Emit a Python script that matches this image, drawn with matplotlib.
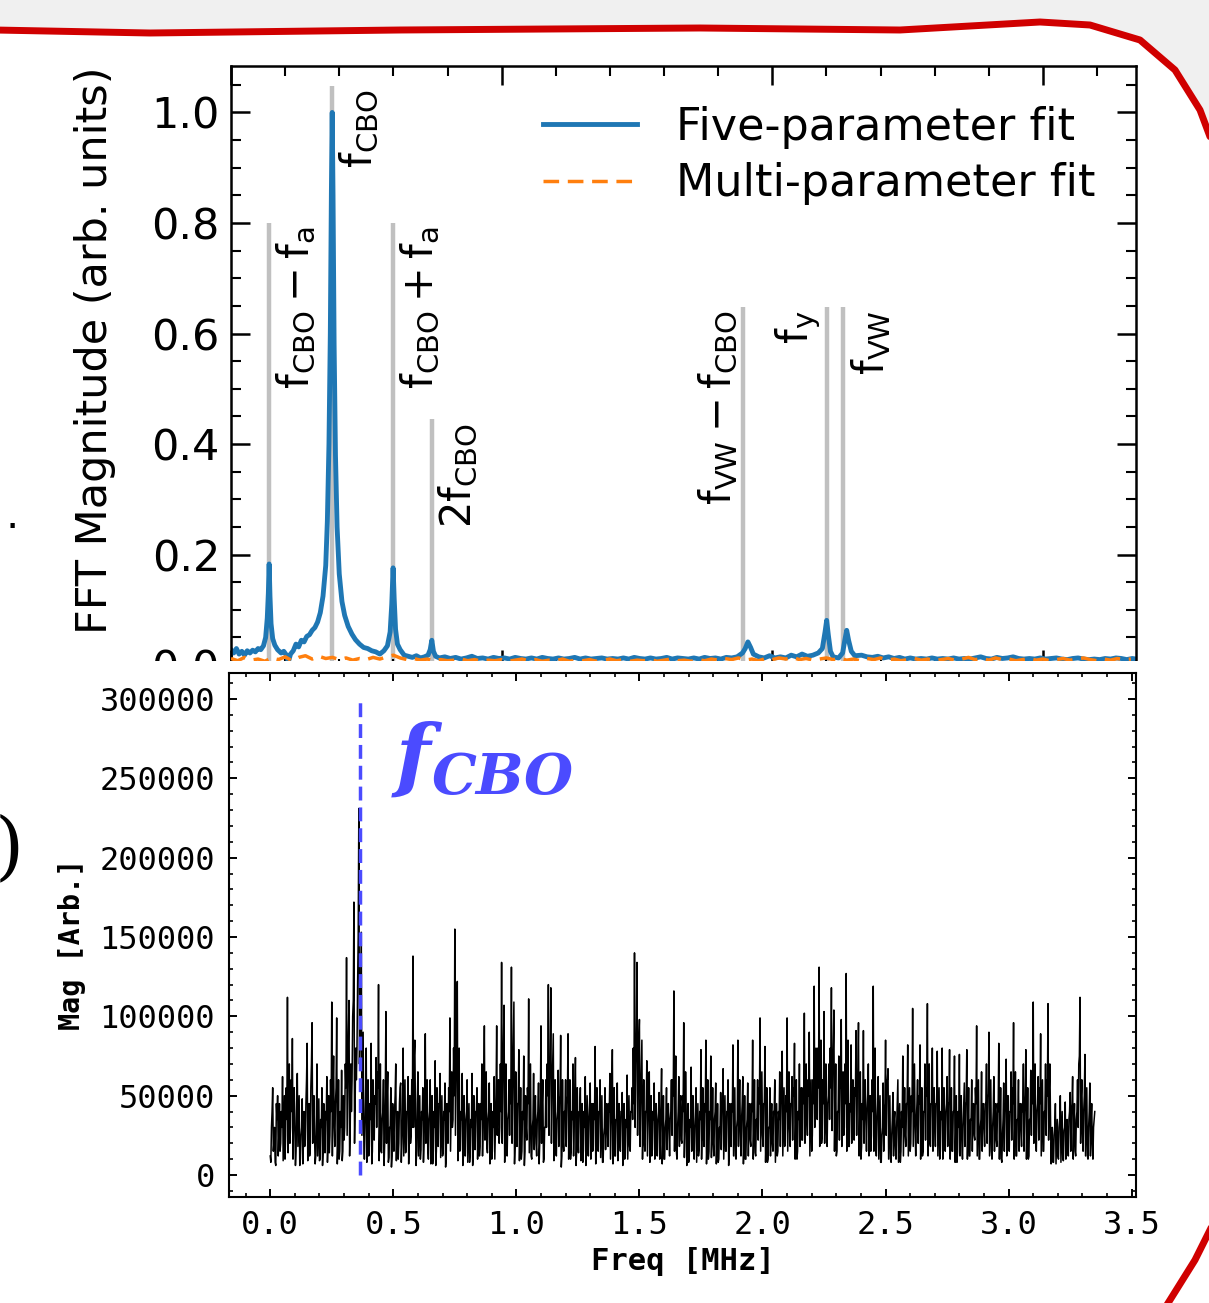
import numpy as np
import matplotlib.pyplot as plt
from matplotlib.ticker import MultipleLocator
from matplotlib.patches import Rectangle, Polygon
from matplotlib.lines import Line2D

# ---- upper panel: FFT of fit residuals ----
five_f = [
    0.000, 0.010, 0.020, 0.030, 0.040, 0.050, 0.060, 0.070, 0.080, 0.090,
    0.100, 0.110, 0.120, 0.128, 0.134, 0.138, 0.141, 0.144, 0.148, 0.154,
    0.162, 0.172, 0.185, 0.195, 0.205, 0.212, 0.220, 0.230, 0.240, 0.250,
    0.260, 0.270, 0.280, 0.290, 0.300, 0.310, 0.320, 0.330, 0.340, 0.350,
    0.356, 0.362, 0.367, 0.371, 0.374, 0.377, 0.381, 0.386, 0.392, 0.400,
    0.410, 0.420, 0.433, 0.447, 0.460, 0.475, 0.490, 0.505, 0.520, 0.535,
    0.550, 0.565, 0.578, 0.588, 0.594, 0.599, 0.603, 0.608, 0.615, 0.625,
    0.640, 0.655, 0.670, 0.685, 0.700, 0.715, 0.728, 0.736, 0.742, 0.748,
    0.756, 0.770, 0.790, 0.810, 0.830, 0.850, 0.870, 0.890, 0.910, 0.930,
    0.950, 0.970, 0.990, 1.010, 1.030, 1.050, 1.070, 1.090, 1.110, 1.130,
    1.150, 1.170, 1.190, 1.210, 1.230, 1.250, 1.270, 1.290, 1.310, 1.330,
    1.350, 1.370, 1.390, 1.410, 1.430, 1.450, 1.470, 1.490, 1.510, 1.530,
    1.550, 1.570, 1.590, 1.610, 1.630, 1.650, 1.670, 1.690, 1.710, 1.730,
    1.750, 1.770, 1.790, 1.810, 1.830, 1.850, 1.870, 1.890, 1.900, 1.910,
    1.920, 1.930, 1.950, 1.970, 1.990, 2.010, 2.030, 2.050, 2.070, 2.090,
    2.110, 2.130, 2.150, 2.170, 2.185, 2.195, 2.201, 2.207, 2.215, 2.225,
    2.245, 2.260, 2.268, 2.275, 2.282, 2.292, 2.305, 2.330, 2.350, 2.370,
    2.390, 2.410, 2.430, 2.450, 2.470, 2.490, 2.510, 2.530, 2.550, 2.570,
    2.590, 2.610, 2.630, 2.650, 2.670, 2.690, 2.710, 2.730, 2.750, 2.770,
    2.790, 2.810, 2.830, 2.850, 2.870, 2.890, 2.910, 2.930, 2.950, 2.970,
    2.990, 3.010, 3.030, 3.050, 3.070, 3.090, 3.110, 3.130, 3.150, 3.170,
    3.190, 3.210, 3.230, 3.250, 3.270, 3.290, 3.310, 3.330, 3.344,
]
five_mag = [
    0.028, 0.022, 0.030, 0.020, 0.025, 0.018, 0.026, 0.022, 0.027, 0.024,
    0.030, 0.028, 0.035, 0.050, 0.085, 0.130, 0.183, 0.125, 0.075, 0.048,
    0.036, 0.028, 0.022, 0.025, 0.018, 0.006, 0.020, 0.026, 0.038, 0.033,
    0.045, 0.042, 0.052, 0.055, 0.063, 0.068, 0.078, 0.095, 0.125, 0.180,
    0.260, 0.400, 0.600, 0.860, 1.000, 0.850, 0.580, 0.380, 0.250, 0.165,
    0.115, 0.090, 0.070, 0.056, 0.046, 0.038, 0.032, 0.030, 0.026, 0.024,
    0.020, 0.026, 0.035, 0.060, 0.110, 0.176, 0.120, 0.065, 0.038, 0.028,
    0.018, 0.016, 0.014, 0.017, 0.013, 0.015, 0.018, 0.028, 0.045, 0.025,
    0.016, 0.013, 0.015, 0.012, 0.014, 0.011, 0.013, 0.016, 0.012, 0.013,
    0.011, 0.014, 0.012, 0.013, 0.011, 0.014, 0.012, 0.011, 0.013, 0.011,
    0.014, 0.012, 0.011, 0.013, 0.011, 0.012, 0.014, 0.011, 0.013, 0.011,
    0.012, 0.013, 0.011, 0.012, 0.011, 0.013, 0.011, 0.014, 0.012, 0.011,
    0.013, 0.011, 0.012, 0.014, 0.011, 0.013, 0.012, 0.011, 0.013, 0.011,
    0.014, 0.012, 0.013, 0.011, 0.014, 0.013, 0.015, 0.022, 0.030, 0.042,
    0.032, 0.020, 0.015, 0.013, 0.017, 0.013, 0.015, 0.013, 0.018, 0.015,
    0.020, 0.016, 0.018, 0.022, 0.030, 0.060, 0.081, 0.055, 0.025, 0.015,
    0.013, 0.022, 0.045, 0.063, 0.045, 0.025, 0.017, 0.018, 0.015, 0.014,
    0.016, 0.013, 0.015, 0.012, 0.014, 0.011, 0.013, 0.011, 0.012, 0.011,
    0.013, 0.011, 0.012, 0.011, 0.013, 0.011, 0.012, 0.011, 0.013, 0.015,
    0.012, 0.011, 0.014, 0.012, 0.013, 0.015, 0.012, 0.011, 0.012, 0.011,
    0.013, 0.011, 0.012, 0.013, 0.011, 0.010, 0.012, 0.013, 0.011, 0.010,
    0.011, 0.010, 0.012, 0.011, 0.013, 0.012, 0.010, 0.012, 0.011,
]

# multi-parameter fit residual, sampled every 0.025 MHz
multi_step = 0.025
multi_mag = [
    0.012, 0.008, 0.014, 0.009, 0.011, 0.007, 0.013, 0.010, 0.015, 0.008,
    0.014, 0.017, 0.011, 0.016, 0.012, 0.014, 0.010, 0.013, 0.009, 0.012,
    0.010, 0.014, 0.011, 0.015, 0.018, 0.013, 0.010, 0.012, 0.009, 0.011,
    0.008, 0.010, 0.008, 0.009, 0.011, 0.008, 0.010, 0.007, 0.009, 0.008,
    0.010, 0.007, 0.009, 0.011, 0.008, 0.010, 0.007, 0.009, 0.008, 0.011,
    0.007, 0.009, 0.008, 0.010, 0.007, 0.009, 0.011, 0.008, 0.010, 0.007,
    0.009, 0.008, 0.010, 0.007, 0.009, 0.011, 0.008, 0.009, 0.007, 0.010,
    0.008, 0.011, 0.009, 0.012, 0.010, 0.013, 0.009, 0.011, 0.008, 0.012,
    0.010, 0.013, 0.011, 0.014, 0.010, 0.012, 0.009, 0.011, 0.013, 0.010,
    0.012, 0.009, 0.011, 0.008, 0.012, 0.010, 0.013, 0.009, 0.011, 0.008,
    0.010, 0.012, 0.009, 0.011, 0.008, 0.010, 0.012, 0.009, 0.011, 0.014,
    0.010, 0.012, 0.009, 0.013, 0.010, 0.011, 0.008, 0.010, 0.012, 0.009,
    0.011, 0.008, 0.010, 0.012, 0.009, 0.011, 0.013, 0.010, 0.008, 0.011,
    0.009, 0.012, 0.010, 0.011,
]

# known frequencies marked with grey lines
line_f = [0.141, 0.374, 0.599, 0.742, 1.893, 2.201, 2.263]
line_top = [0.80, 1.048, 0.80, 0.445, 0.648, 0.648, 0.648]
line_text = [
    r'$\mathregular{f_{CBO}-f_{a}}$',
    r'$\mathregular{f_{CBO}}$',
    r'$\mathregular{f_{CBO}+f_{a}}$',
    r'$\mathregular{2f_{CBO}}$',
    r'$\mathregular{f_{VW}-f_{CBO}}$',
    r'$\mathregular{f_{y}}$',
    r'$\mathregular{f_{VW}}$',
]
line_side = ['right', 'right', 'right', 'right', 'left', 'left', 'right']

# ---- lower panel: raw spectrum (values in thousands) ----
# bins at 0.0000, 0.0100, ... MHz
spec_q0_k = [
    12, 55, 8, 50, 15, 62, 10, 112, 20, 86,
    30, 64, 6, 48, 18, 83, 12, 96, 25, 70,
    9, 55, 20, 62, 14, 109, 30, 99, 10, 66,
    22, 137, 110, 40, 172, 60, 231, 153, 25, 80,
    12, 83, 30, 74, 120, 15, 60, 103, 8, 55,
    25, 70, 10, 58, 80, 14, 62, 20, 138, 40,
    65, 10, 55, 89, 18, 60, 7, 72, 28, 64,
    12, 58, 22, 99, 30, 155, 122, 15, 64, 20,
    60, 8, 64, 25, 55, 12, 70, 94, 18, 58,
    10, 62, 94, 20, 134, 107, 15, 60, 131, 109,
    25, 79, 10, 75, 30, 111, 12, 64, 20, 58,
    94, 8, 60, 120, 118, 89, 15, 66, 88, 22,
    60, 89, 10, 70, 74, 25, 55, 8, 62, 30,
    58, 15, 81, 20, 60, 8, 55, 28, 64, 79,
    12, 58, 22, 52, 10, 63, 18, 55, 140, 134,
    98, 85, 20, 72, 65, 12, 58, 25, 52, 67,
    10, 55, 30, 60, 116, 15, 62, 22, 96, 40,
    8, 68, 20, 55, 12, 79, 25, 85, 10, 75,
    20, 58, 8, 52, 67, 15, 60, 28, 82, 12,
    85, 30, 62, 10, 58, 22, 85, 14, 60, 99,
    25, 81, 8, 55, 20, 60, 12, 65, 78, 18,
    99, 30, 62, 83, 10, 70, 22, 102, 35, 90,
    15, 119, 40, 131, 20, 103, 30, 70, 118, 104,
    12, 75, 98, 25, 127, 18, 82, 30, 91, 96,
    10, 91, 35, 70, 15, 119, 20, 62, 8, 58,
    85, 67, 10, 52, 20, 60, 8, 75, 25, 82,
    15, 105, 30, 60, 82, 12, 70, 108, 20, 80,
    30, 78, 10, 80, 25, 62, 79, 15, 75, 8,
    76, 20, 58, 79, 12, 60, 25, 94, 10, 65,
    30, 70, 90, 15, 62, 22, 83, 10, 58, 73,
    20, 65, 96, 12, 60, 28, 70, 79, 10, 66,
    109, 25, 62, 89, 15, 70, 108, 40, 8, 45,
    12, 50, 10, 46, 20, 52, 62, 15, 60, 112,
    30, 76, 12, 58, 20, 40,
]
# bins at 0.0025, 0.0125, ... MHz
spec_q1_k = [
    8, 15, 6, 12, 20, 9, 25, 14, 30, 10,
    6, 18, 10, 7, 22, 9, 15, 20, 7, 12,
    10, 6, 14, 8, 25, 12, 18, 7, 15, 9,
    30, 25, 12, 60, 20, 80, 70, 25, 10, 8,
    18, 7, 22, 30, 9, 14, 6, 20, 11, 5,
    15, 9, 20, 8, 12, 16, 7, 25, 30, 6,
    12, 16, 8, 20, 10, 7, 15, 6, 18, 11,
    14, 5, 20, 15, 35, 25, 9, 16, 6, 12,
    8, 14, 6, 16, 10, 18, 12, 22, 14, 7,
    15, 10, 25, 30, 20, 8, 12, 25, 20, 7,
    18, 9, 15, 6, 22, 14, 10, 16, 12, 7,
    20, 10, 30, 25, 20, 9, 12, 18, 5, 15,
    18, 10, 15, 12, 6, 14, 9, 16, 6, 12,
    10, 18, 7, 15, 11, 8, 16, 18, 10, 7,
    12, 9, 15, 6, 12, 10, 15, 35, 30, 25,
    18, 10, 15, 12, 8, 16, 10, 12, 10, 7,
    10, 16, 12, 25, 15, 10, 18, 20, 11, 6,
    12, 15, 10, 8, 16, 10, 18, 7, 15, 11,
    12, 7, 10, 16, 10, 15, 6, 18, 12, 10,
    18, 12, 7, 10, 12, 18, 10, 12, 22, 15,
    18, 8, 10, 12, 15, 8, 15, 18, 12, 20,
    15, 18, 22, 10, 15, 18, 22, 20, 25, 12,
    25, 30, 35, 18, 25, 20, 18, 35, 28, 15,
    15, 22, 18, 30, 15, 18, 20, 22, 25, 12,
    18, 20, 15, 12, 25, 15, 12, 10, 8, 15,
    25, 10, 8, 12, 10, 8, 15, 12, 18, 12,
    20, 18, 12, 20, 10, 15, 22, 12, 18, 15,
    18, 12, 15, 10, 15, 18, 10, 15, 8, 15,
    12, 10, 18, 10, 12, 15, 22, 12, 10, 15,
    18, 20, 12, 10, 15, 18, 10, 8, 15, 12,
    15, 22, 10, 12, 15, 18, 15, 10, 12, 25,
    20, 15, 22, 12, 15, 25, 22, 7, 8, 7,
    10, 8, 9, 10, 12, 15, 10, 12, 30, 20,
    15, 12, 10, 12, 10,
]
# bins at 0.0050, 0.0150, ... MHz
spec_q2_k = [
    30, 20, 45, 25, 40, 28, 55, 48, 60, 40,
    15, 35, 25, 20, 45, 30, 55, 40, 12, 30,
    35, 15, 40, 20, 60, 55, 45, 20, 40, 15,
    70, 60, 30, 100, 45, 120, 90, 60, 30, 20,
    45, 15, 50, 65, 30, 35, 20, 50, 30, 12,
    40, 30, 45, 20, 35, 40, 25, 60, 75, 15,
    30, 40, 20, 45, 35, 25, 40, 15, 45, 30,
    40, 10, 55, 40, 80, 60, 30, 40, 12, 35,
    25, 35, 15, 40, 30, 45, 30, 50, 35, 20,
    40, 30, 55, 70, 60, 25, 35, 60, 55, 20,
    45, 30, 40, 15, 55, 40, 30, 40, 35, 20,
    45, 30, 70, 60, 50, 30, 35, 45, 12, 40,
    45, 30, 40, 35, 15, 40, 25, 40, 15, 35,
    30, 45, 20, 40, 30, 25, 40, 45, 30, 20,
    35, 25, 40, 15, 35, 30, 40, 80, 70, 60,
    45, 30, 40, 35, 25, 40, 30, 35, 30, 20,
    30, 40, 35, 60, 40, 30, 45, 50, 30, 15,
    35, 40, 30, 25, 40, 30, 45, 20, 40, 30,
    35, 20, 30, 40, 30, 40, 15, 45, 35, 30,
    45, 35, 20, 30, 35, 45, 30, 35, 55, 40,
    45, 25, 30, 35, 40, 25, 40, 45, 35, 50,
    40, 45, 55, 30, 40, 45, 55, 50, 60, 35,
    60, 70, 80, 45, 60, 50, 45, 80, 65, 40,
    40, 55, 45, 70, 40, 45, 50, 55, 60, 35,
    45, 50, 40, 35, 60, 40, 35, 30, 25, 40,
    60, 30, 25, 35, 30, 25, 40, 35, 45, 35,
    50, 45, 35, 50, 30, 40, 55, 35, 45, 40,
    45, 35, 40, 30, 40, 45, 30, 40, 25, 40,
    35, 30, 45, 30, 35, 40, 55, 35, 30, 40,
    45, 50, 35, 30, 40, 45, 30, 25, 40, 35,
    40, 55, 30, 35, 40, 45, 40, 30, 35, 60,
    50, 40, 55, 35, 40, 60, 55, 20, 25, 20,
    30, 25, 28, 30, 35, 40, 30, 35, 70, 50,
    40, 35, 30, 35, 30,
]
# bins at 0.0075, 0.0175, ... MHz
spec_q3_k = [
    40, 30, 35, 45, 30, 50, 35, 70, 40, 55,
    45, 50, 30, 40, 60, 45, 70, 50, 35, 48,
    30, 45, 35, 50, 40, 75, 55, 60, 30, 50,
    55, 90, 70, 110, 80, 150, 120, 90, 50, 60,
    35, 60, 45, 55, 70, 40, 50, 65, 30, 45,
    50, 40, 55, 35, 60, 40, 50, 30, 85, 45,
    50, 35, 45, 60, 40, 50, 30, 55, 45, 50,
    35, 45, 40, 65, 50, 90, 80, 35, 50, 40,
    45, 30, 50, 40, 45, 35, 55, 65, 40, 45,
    30, 50, 60, 40, 85, 70, 40, 45, 80, 65,
    45, 55, 35, 50, 45, 70, 35, 50, 40, 45,
    60, 30, 50, 75, 70, 60, 40, 50, 60, 40,
    50, 60, 35, 50, 55, 40, 45, 30, 50, 45,
    45, 35, 55, 40, 50, 30, 45, 40, 50, 55,
    35, 45, 40, 45, 30, 50, 40, 45, 90, 85,
    65, 60, 40, 55, 50, 35, 45, 40, 45, 50,
    35, 45, 40, 50, 75, 40, 50, 40, 65, 45,
    30, 50, 40, 45, 35, 55, 40, 60, 35, 55,
    40, 45, 30, 45, 50, 40, 45, 40, 55, 35,
    60, 45, 50, 35, 45, 40, 60, 35, 45, 65,
    45, 55, 30, 45, 40, 45, 35, 50, 55, 40,
    65, 45, 50, 60, 35, 55, 45, 70, 50, 60,
    45, 80, 55, 85, 45, 70, 50, 55, 80, 70,
    40, 55, 65, 45, 85, 40, 60, 50, 65, 65,
    35, 60, 50, 50, 40, 80, 45, 50, 30, 45,
    60, 50, 35, 40, 45, 45, 30, 55, 45, 55,
    40, 70, 45, 45, 55, 40, 50, 70, 45, 55,
    45, 55, 35, 55, 45, 45, 55, 40, 50, 30,
    50, 45, 45, 55, 35, 45, 45, 60, 35, 45,
    45, 50, 60, 40, 45, 40, 55, 35, 45, 50,
    40, 45, 65, 35, 45, 40, 50, 55, 35, 45,
    70, 45, 45, 60, 40, 50, 70, 30, 30, 35,
    35, 40, 30, 35, 40, 45, 45, 40, 75, 60,
    50, 55, 40, 45, 35,
]
spec_step = 0.01
f_cbo_marker = 0.365

W, H = 1209, 1303


def fig_xy(x, y):
    # pixel position (from top-left) -> figure fraction
    return x / W, 1 - y / H


fig = plt.figure(figsize=(W / 100, H / 100), dpi=100)
fig.patch.set_facecolor('white')

# upper panel
ax1 = fig.add_axes([231 / W, 1 - 669 / H, 905 / W, 603 / H])
ax1.vlines(line_f, 0, line_top, colors='#c0c0c0', lw=3.2, zorder=1)
ax1.plot(five_f, five_mag, color='#1f77b4', lw=3.5, label='Five-parameter fit', zorder=2)
multi_f = np.arange(len(multi_mag)) * multi_step
ax1.plot(multi_f, multi_mag, color='#ff7f0e', lw=2.5, ls='--', dashes=(4.5, 2.5),
         label='Multi-parameter fit', zorder=3)

for f, top, txt, side in zip(line_f, line_top, line_text, line_side):
    if side == 'right':
        ax1.text(f + 0.02, top - 0.006, txt, rotation=90, ha='left', va='top', fontsize=30)
    else:
        ax1.text(f - 0.012, top - 0.006, txt, rotation=90, ha='right', va='top', fontsize=30)

ax1.set_xlim(0, 3.344)
ax1.set_ylim(-0.007, 1.084)
ax1.xaxis.set_major_locator(MultipleLocator(1))
ax1.xaxis.set_minor_locator(MultipleLocator(0.2))
ax1.yaxis.set_major_locator(MultipleLocator(0.2))
ax1.yaxis.set_minor_locator(MultipleLocator(0.05))
ax1.tick_params(which='both', direction='in', top=True, right=True, labelbottom=False)
ax1.tick_params(which='major', length=14, width=1.8, labelsize=31, pad=8)
ax1.tick_params(which='minor', length=7, width=1.5)
for s in ax1.spines.values():
    s.set_linewidth(1.8)
ax1.set_ylabel('FFT Magnitude (arb. units)', fontsize=31)
ax1.yaxis.set_label_coords(-0.127, 0.529)
ax1.legend(loc='upper right', frameon=False, fontsize=32, handlelength=2.1,
           handletextpad=0.9, labelspacing=0.3)

# white backing of the lower panel covers the bottom edge of the upper one
fig.patches.append(Rectangle(fig_xy(30, 1300), (1150 - 30) / W, (1300 - 661) / H,
                             transform=fig.transFigure, facecolor='white',
                             edgecolor='none', zorder=1))

# lower panel: merge the four quarter-step bin sets into one trace
n_bins = len(spec_q0_k) + len(spec_q1_k) + len(spec_q2_k) + len(spec_q3_k)
spec_mag_k = np.empty(n_bins)
spec_mag_k[0::4] = spec_q0_k
spec_mag_k[1::4] = spec_q1_k
spec_mag_k[2::4] = spec_q2_k
spec_mag_k[3::4] = spec_q3_k
spec_f = np.arange(n_bins) * spec_step / 4
spec_mag = spec_mag_k * 1000

ax2 = fig.add_axes([229 / W, 1 - 1197 / H, 907 / W, 524 / H], zorder=2)
ax2.plot(spec_f, spec_mag, color='black', lw=1.1)
ax2.vlines(f_cbo_marker, 0, 300000, colors='#4b4bff', linestyles=(0, (4, 2)), lw=2.5)
ax2.text(0.49, 262000, r'$\mathbfit{f}_{\mathbfit{CBO}}$', color='#4b4bff',
         fontsize=58, math_fontfamily='dejavuserif', ha='left', va='center')
ax2.set_xlim(-0.1675, 3.5175)
ax2.set_ylim(-13866, 316400)
ax2.xaxis.set_major_locator(MultipleLocator(0.5))
ax2.xaxis.set_minor_locator(MultipleLocator(0.1))
ax2.yaxis.set_major_locator(MultipleLocator(50000))
ax2.yaxis.set_minor_locator(MultipleLocator(10000))
ax2.tick_params(which='both', direction='in', top=True, right=True)
ax2.tick_params(which='major', length=6, width=1.4, labelsize=23)
ax2.tick_params(which='minor', length=3, width=1.2)
ax2.tick_params(axis='y', pad=10)
ax2.tick_params(axis='x', pad=9)
for lab in ax2.get_xticklabels() + ax2.get_yticklabels():
    lab.set_fontfamily('DejaVu Sans Mono')
for s in ax2.spines.values():
    s.set_linewidth(1.5)
ax2.set_xlabel('Freq [MHz]', fontsize=22, fontweight='bold', fontfamily='DejaVu Sans Mono')
ax2.set_ylabel('Mag [Arb.]', fontsize=20.5, fontweight='bold', fontfamily='DejaVu Sans Mono')
ax2.xaxis.set_label_coords(0.5, -0.095)
ax2.yaxis.set_label_coords(-0.158, 0.483)

# slide frame around the figure
frame_top = [(-5, 30), (150, 33), (400, 30), (700, 28), (900, 30), (1040, 22),
             (1090, 25), (1140, 40), (1175, 70), (1200, 110), (1215, 150)]
grey_pts = [(-5, -5), (1215, -5)] + frame_top[::-1]
fig.patches.append(Polygon([fig_xy(x, y) for x, y in grey_pts], closed=True,
                           transform=fig.transFigure, facecolor='#f0f0f0',
                           edgecolor='none', zorder=4))
fx, fy = zip(*[fig_xy(x, y) for x, y in frame_top])
fig.add_artist(Line2D(fx, fy, transform=fig.transFigure, color='#d00000', lw=5,
                      solid_capstyle='round', zorder=5))
frame_br = [(1215, 1220), (1195, 1260), (1165, 1308)]
bx, by = zip(*[fig_xy(x, y) for x, y in frame_br])
fig.add_artist(Line2D(bx, by, transform=fig.transFigure, color='#d00000', lw=5, zorder=5))

# bits of slide text at the left edge
fig.text(*fig_xy(6, 528), '.', fontsize=30, ha='left', va='baseline')
fig.text(*fig_xy(24, 850), ')', fontsize=54, ha='right', va='center', family='DejaVu Serif')

fig.savefig('out.png', dpi=100, facecolor=fig.get_facecolor())
